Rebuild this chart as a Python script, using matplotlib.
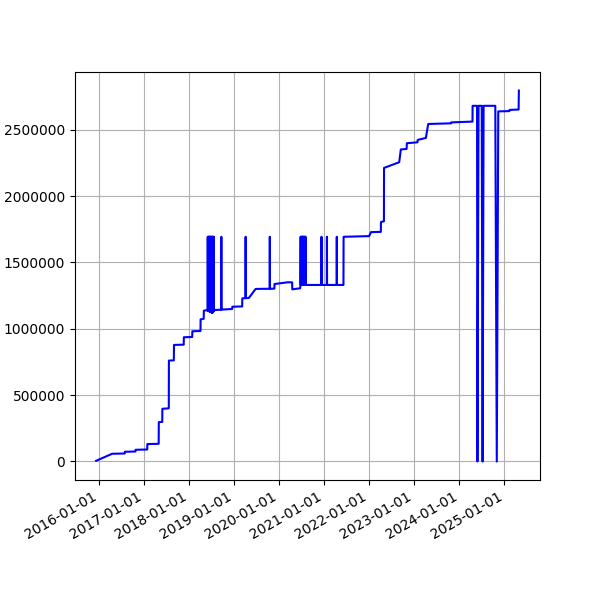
import pandas as pd
import matplotlib
matplotlib.use("Agg")
import matplotlib.pyplot as plt
import matplotlib.dates as mdates

# step-like base series
base_dates = [
    "2015-12-10", "2016-04-18", "2016-07-29", "2016-07-30", "2016-10-24", "2016-10-25",
    "2017-01-27", "2017-01-28", "2017-04-30", "2017-05-01", "2017-05-29", "2017-05-30",
    "2017-07-21", "2017-07-22", "2017-08-31", "2017-09-01", "2017-11-19", "2017-11-20",
    "2018-01-27", "2018-01-28", "2018-04-04", "2018-04-05", "2018-04-30", "2018-05-01",
    "2018-05-25", "2018-07-10", "2018-07-28", "2018-12-17", "2018-12-18", "2019-03-08",
    "2019-03-09", "2019-05-01", "2019-06-25", "2019-11-24", "2019-11-25", "2020-03-10",
    "2020-04-16", "2020-04-17", "2020-06-20", "2020-06-23", "2021-06-06", "2021-06-07",
    "2021-12-31", "2022-01-15", "2022-04-05", "2022-04-06", "2022-04-30", "2022-05-01",
    "2022-09-01", "2022-09-14", "2022-10-31", "2022-11-02", "2023-01-27", "2023-01-29",
    "2023-04-05", "2023-04-24", "2023-10-26", "2023-10-28", "2024-04-17", "2024-04-18",
    "2024-05-24", "2024-05-27", "2024-06-05", "2024-07-01", "2024-07-08", "2024-07-16",
    "2024-10-19", "2024-10-31", "2024-11-12", "2025-02-10", "2025-02-12", "2025-04-26",
    "2025-04-28",
]
base_values = [
    5000, 58000, 60000, 73000, 75000, 88000,
    90000, 131000, 133000, 296000, 298000, 397000,
    400000, 760000, 762000, 878000, 880000, 936000,
    938000, 981000, 983000, 1071000, 1075000, 1136000,
    1140000, 1121000, 1141000, 1149000, 1166000, 1168000,
    1229000, 1232000, 1300000, 1302000, 1337000, 1350000,
    1350000, 1297000, 1305000, 1330000, 1330000, 1693000,
    1698000, 1728000, 1730000, 1804000, 1810000, 2212000,
    2255000, 2351000, 2355000, 2398000, 2405000, 2423000,
    2438000, 2543000, 2548000, 2555000, 2561000, 2680000,
    2680000, 0, 2680000, 2680000, 0, 2680000,
    2680000, 0, 2638000, 2640000, 2649000, 2652000,
    2795000,
]

# one-day spikes up to this value
spike_value = 1693000
spike_dates = [
    "2018-06-02", "2018-06-05", "2018-06-08", "2018-06-11", "2018-06-14", "2018-06-17",
    "2018-06-20", "2018-06-23", "2018-06-26", "2018-06-29", "2018-07-02", "2018-07-05",
    "2018-07-08", "2018-07-11", "2018-07-14", "2018-07-17", "2018-07-20",
    "2018-09-20", "2019-04-05", "2019-10-18",
    "2020-06-24", "2020-06-27", "2020-06-30", "2020-07-03", "2020-07-06", "2020-07-09",
    "2020-07-12", "2020-07-15", "2020-07-18", "2020-07-21", "2020-07-24", "2020-07-27",
    "2020-07-30", "2020-08-02",
    "2020-12-10", "2021-01-23", "2021-04-13",
]

base = pd.Series(base_values, index=pd.to_datetime(base_dates))
spikes = pd.to_datetime(spike_dates)
one_day = pd.Timedelta(days=1)
idx = base.index.union(spikes).union(spikes - one_day).union(spikes + one_day)
series = base.reindex(idx).interpolate(method="time")
series[spikes] = spike_value

fig = plt.figure(figsize=(6, 6), dpi=100)
ax = fig.add_subplot(111)
ax.plot(series.index, series.values, color="blue")
ax.grid(True)
ax.ticklabel_format(style="plain", axis="y")
ax.xaxis.set_major_locator(mdates.YearLocator())
ax.xaxis.set_major_formatter(mdates.DateFormatter("%Y-%m-%d"))
fig.autofmt_xdate()
fig.savefig("out.png")
